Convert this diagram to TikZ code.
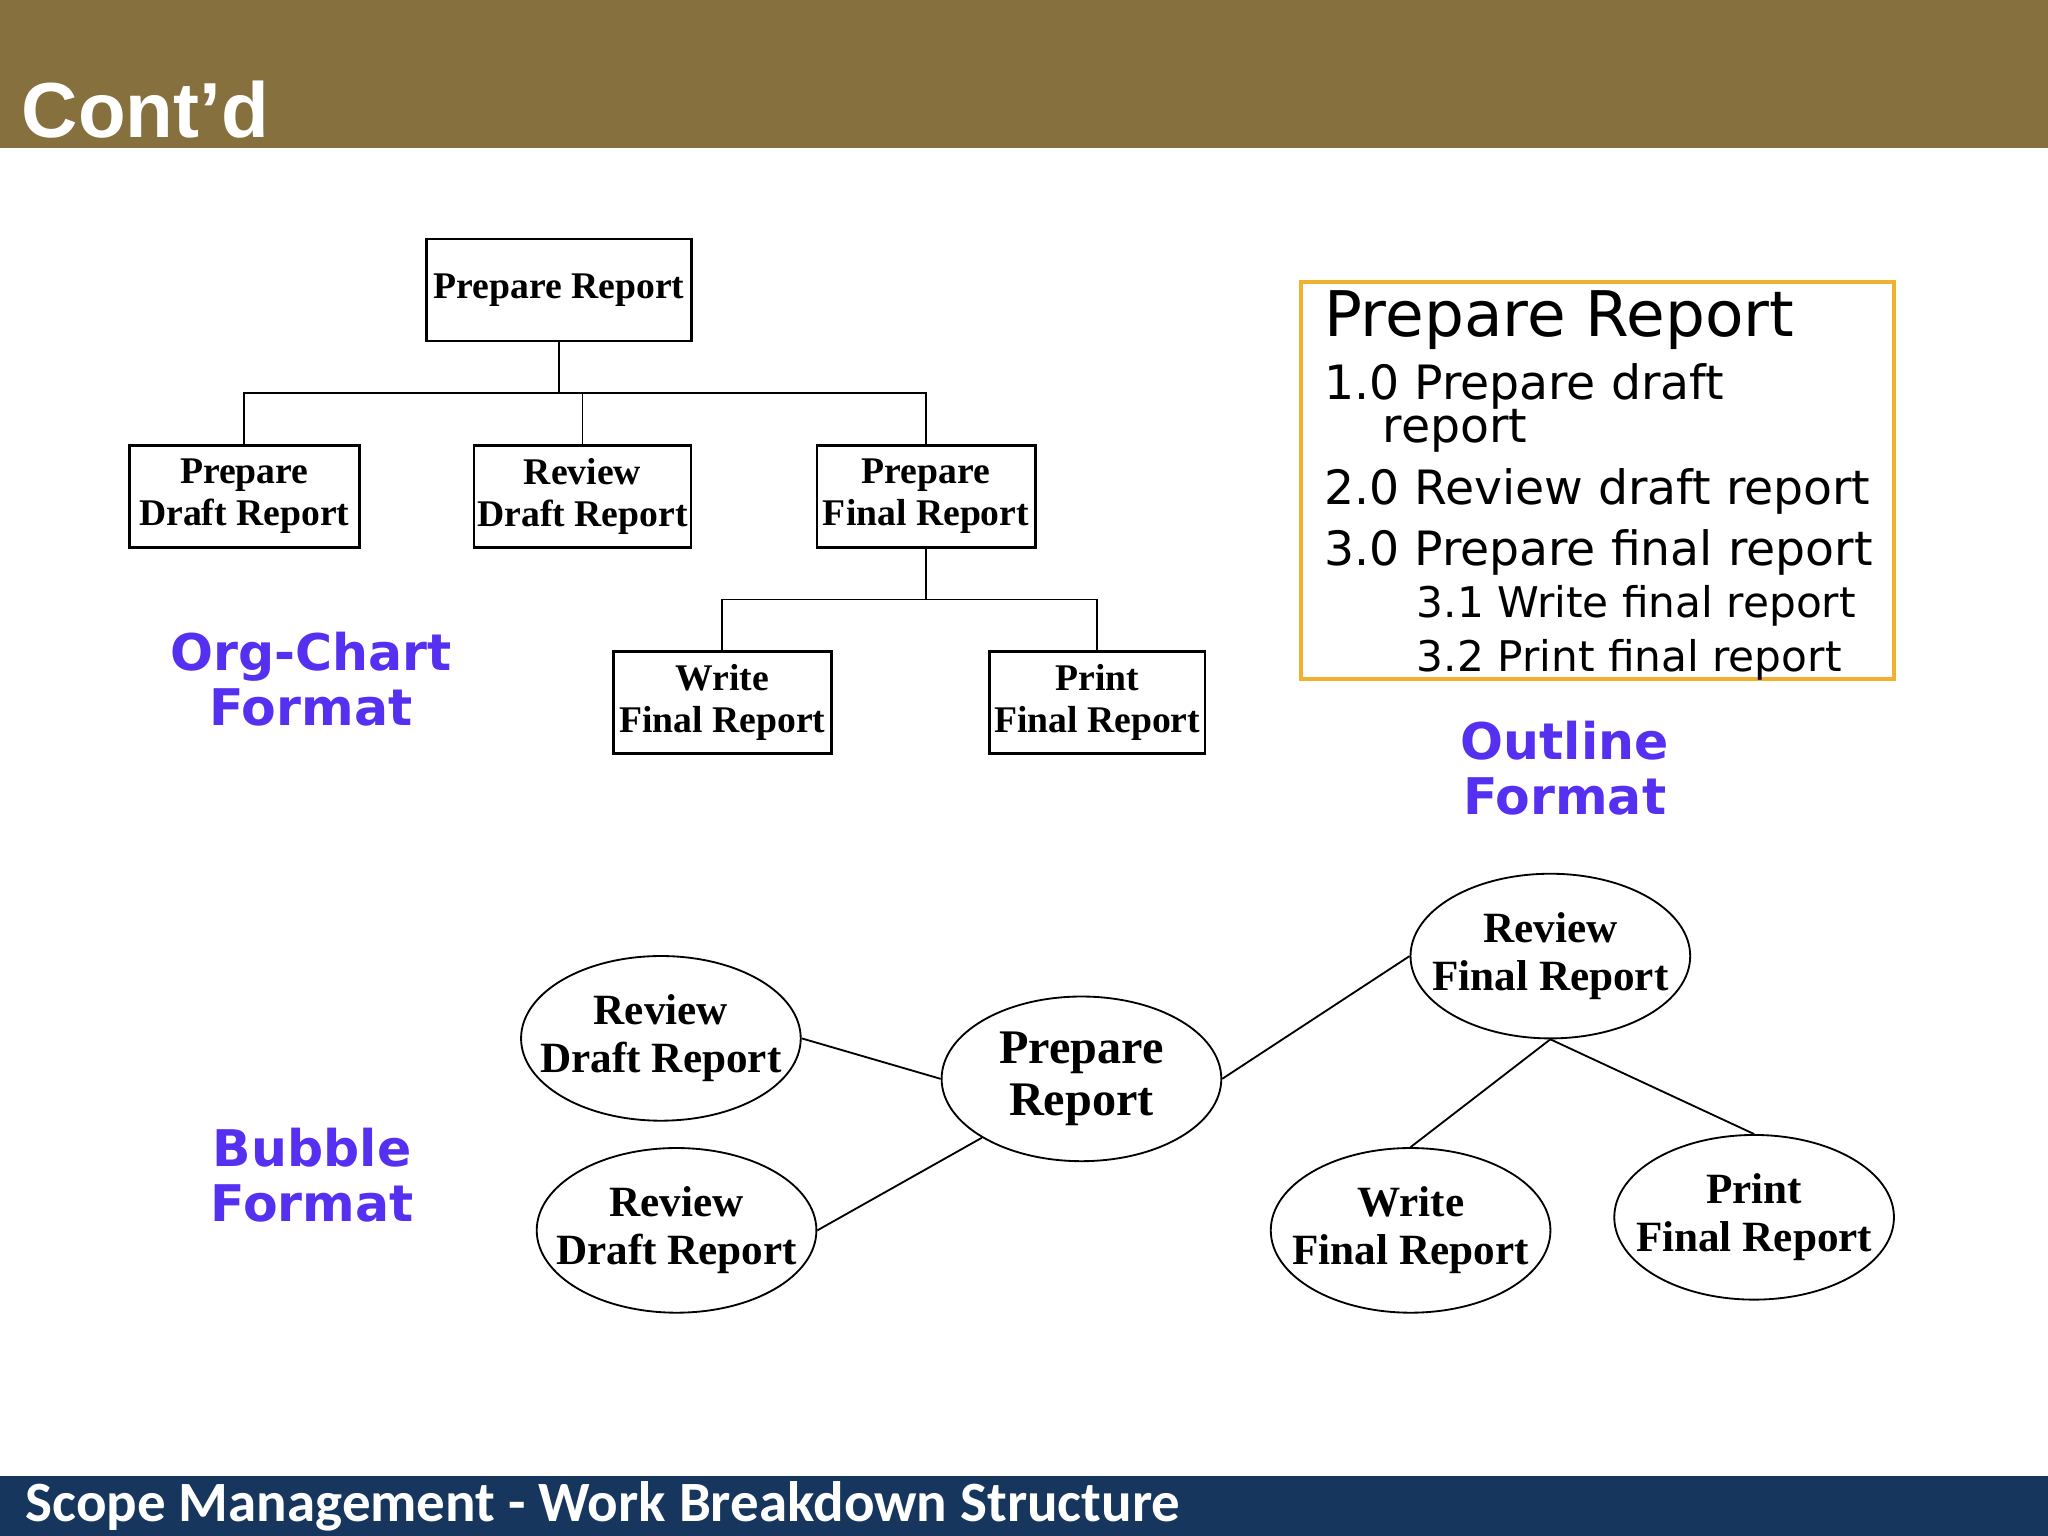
\documentclass[tikz,border=0pt]{standalone}
\usepackage{fontspec}
\setmainfont{Liberation Serif}
\newfontfamily\dv{DejaVu Sans}
\newfontfamily\hd{Liberation Sans}
\newfontfamily\ft{Carlito}
\usetikzlibrary{shapes.geometric}
\definecolor{brown}{HTML}{86703E}
\definecolor{navy}{HTML}{17365D}
\definecolor{lab}{HTML}{5530F0}
\definecolor{orng}{HTML}{F0B030}
\begin{document}
\begin{tikzpicture}[x=0.01cm,y=-0.01cm,
 box/.style={draw,semithick,align=center,font=\fontsize{8.2}{9.2}\selectfont\bfseries,inner sep=0pt,minimum height=0.78cm},
 bub/.style={draw,ellipse,minimum width=2.14cm,minimum height=1.26cm,inner sep=0pt},
 bt/.style={align=center,inner sep=0pt,font=\fontsize{9.4}{10.4}\selectfont\bfseries},
 lab/.style={align=center,text=lab,font=\fontsize{11}{12}\selectfont\dv\bfseries},
 ln/.style={thin}]
\useasboundingbox (0,0) rectangle (1568,1176);
\fill[brown] (0,0) rectangle (1568,113);
\fill[navy] (0,1130) rectangle (1568,1176);
\node[anchor=west,inner sep=0pt,text=white,font=\fontsize{17}{19}\selectfont\hd\bfseries] (t) at (16,84) {Cont’d};
\node[anchor=west,inner sep=0pt,text=white,font=\fontsize{12.4}{14}\selectfont\ft\bfseries] (f) at (19,1153) {Scope Management - Work Breakdown Structure};
% org chart
\node[box,minimum width=2.03cm] (r) at (428,222) {Prepare Report};
\node[box,minimum width=1.76cm] (a) at (187,380) {Prepare\\Draft Report};
\node[box,minimum width=1.66cm] (b) at (446,380) {Review\\Draft Report};
\node[box,minimum width=1.67cm] (c) at (709,380) {Prepare\\Final Report};
\node[box,minimum width=1.67cm] (d) at (553,538) {Write\\Final Report};
\node[box,minimum width=1.65cm] (e) at (840,538) {Print\\Final Report};
\draw[ln] (r.south) |- (446,301) -| (b.north);
\draw[ln] (r.south) |- (187,301) -| (a.north);
\draw[ln] (r.south) |- (709,301) -| (c.north);
\draw[ln] (c.south) |- (553,459) -| (d.north);
\draw[ln] (c.south) |- (840,459) -| (e.north);
\node[lab] (l1) at (238,520) {Org-Chart\\Format};
% outline
\draw[orng,thick] (996,216) rectangle (1450,520);
\begin{scope}[every node/.style={anchor=west,inner sep=0pt}]
\node[font=\fontsize{13.7}{15}\selectfont\dv] (o1) at (1013,245) {Prepare Report};
\node[font=\fontsize{10.3}{12}\selectfont\dv] (o2) at (1013,296) {1.0 Prepare draft};
\node[font=\fontsize{10.3}{12}\selectfont\dv] (o3) at (1058,330) {report};
\node[font=\fontsize{10.3}{12}\selectfont\dv] (o4) at (1013,376) {2.0 Review draft report};
\node[font=\fontsize{10.3}{12}\selectfont\dv] (o5) at (1013,423) {3.0 Prepare final report};
\node[font=\fontsize{9.2}{11}\selectfont\dv] (o6) at (1084,464) {3.1 Write final report};
\node[font=\fontsize{9.2}{11}\selectfont\dv] (o7) at (1084,505) {3.2 Print final report};
\end{scope}
\node[lab] (l2) at (1198,588) {Outline\\Format};
% bubbles
\node[bub] (b1) at (506,795) {};
\node[bub] (b2) at (518,942) {};
\node[bub] (bp) at (828,826) {};
\node[bub] (bf) at (1187,732) {};
\node[bub] (bw) at (1080,942) {};
\node[bub] (bq) at (1343,932) {};
\node[bt] (t1) at (b1) {Review\\Draft Report};
\node[bt] (t2) at (b2) {Review\\Draft Report};
\node[bt,font=\fontsize{10.5}{11.5}\selectfont\bfseries] (tp) at (bp) {Prepare\\Report};
\node[bt] (tf) at (bf) {Review\\Final Report};
\node[bt] (tw) at (bw) {Write\\Final Report};
\node[bt] (tq) at (bq) {Print\\Final Report};
\draw[ln] (b1.east) -- (bp.west);
\draw[ln] (b2.east) -- (bp.south west);
\draw[ln] (bp.east) -- (bf.west);
\draw[ln] (bf.south) -- (bw.north);
\draw[ln] (bf.south) -- (bq.north);
\node[lab] (l3) at (239,900) {Bubble\\Format};
\end{tikzpicture}
\end{document}
